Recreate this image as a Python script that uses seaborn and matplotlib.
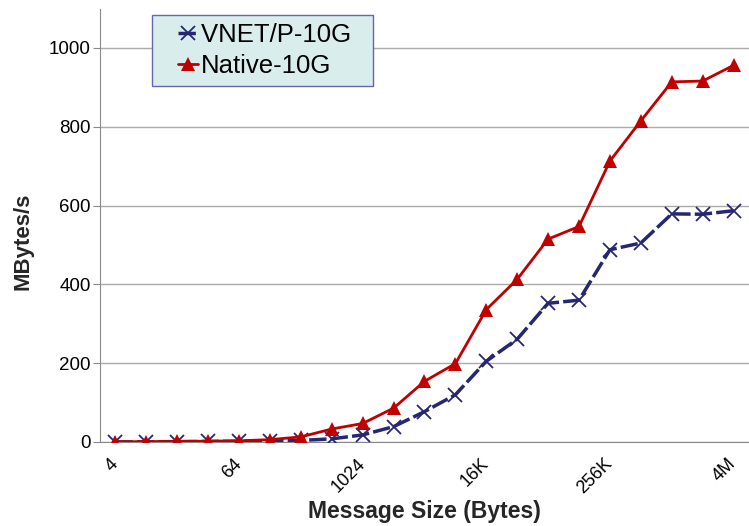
import pandas as pd
import matplotlib
matplotlib.use('Agg')
import matplotlib.pyplot as plt
import matplotlib.transforms as mtransforms
from matplotlib.legend_handler import HandlerLine2D
import seaborn as sns

sizes = ['4', '8', '16', '32', '64', '128', '256', '512', '1024', '2K', '4K',
         '8K', '16K', '32K', '64K', '128K', '256K', '512K', '1M', '2M', '4M']
vnet = [0.3, 0.5, 1, 1.5, 2, 3, 4, 8, 18, 39, 77,
        120, 205, 261, 352, 360, 488, 505, 579, 578, 587]
native = [0.5, 1, 1.5, 2, 3, 6, 13, 33, 47, 86, 154,
          199, 336, 413, 515, 547, 713, 815, 914, 916, 956]

df = pd.DataFrame({'pos': list(range(len(sizes))) * 2,
                   'MBytes/s': vnet + native,
                   'series': ['VNET/P-10G'] * len(sizes) + ['Native-10G'] * len(sizes)})

sns.set_style('white')
plt.rcParams['font.family'] = ['Liberation Sans', 'DejaVu Sans']
plt.rcParams['text.color'] = 'black'
plt.rcParams['xtick.color'] = 'black'
plt.rcParams['ytick.color'] = 'black'

fig = plt.figure(figsize=(7.49, 5.26), dpi=100)
ax = fig.add_axes([0.1335, 0.1597, 0.8665, 0.824])

# VNET/P series (dashed navy, x markers)
sns.lineplot(data=df[df['series'] == 'VNET/P-10G'], x='pos', y='MBytes/s', ax=ax,
             color='#262673', lw=2.5, marker='x', markersize=10.5,
             markeredgewidth=1.3, markeredgecolor='#262673',
             label='VNET/P-10G  ', zorder=3)
ax.lines[-1].set_linestyle((0, (5, 1.2)))
# native series (red, triangles)
sns.lineplot(data=df[df['series'] == 'Native-10G'], x='pos', y='MBytes/s', ax=ax,
             color='#C00000', lw=2, marker='^', markersize=10.5,
             markeredgewidth=0, label='Native-10G', zorder=4)

ax.set_xlim(-0.5, 20.3)
ax.set_ylim(0, 1100)
ax.set_yticks([0, 200, 400, 600, 800, 1000])
ax.yaxis.grid(True, color='#aaaaaa', lw=1)
ax.set_axisbelow(True)

ax.set_xticks([i + 0.5 for i in range(-1, 21)], minor=True)
ax.set_xticks(range(0, 21, 4))
ax.set_xticklabels([sizes[i] for i in range(0, 21, 4)], rotation=45,
                   ha='right', va='center', rotation_mode='anchor')
shift = mtransforms.ScaledTranslation(6 / 72, 0, fig.dpi_scale_trans)
for lbl in ax.get_xticklabels():
    lbl.set_transform(lbl.get_transform() + shift)
ax.tick_params(axis='x', which='major', length=0, pad=14, labelsize=13)
ax.tick_params(axis='x', which='minor', length=5, color='#888888', direction='in')
ax.tick_params(axis='y', length=5, color='#888888', labelsize=13.5, left=True, pad=1.5)

for s in ['top', 'right']:
    ax.spines[s].set_visible(False)
for s in ['left', 'bottom']:
    ax.spines[s].set_color('#888888')

ax.set_xlabel('Message Size (Bytes)', fontsize=16.5, fontweight='bold', labelpad=2)
ax.set_ylabel('MBytes/s', fontsize=16, fontweight='bold')
ax.yaxis.set_label_coords(-0.103, 0.463)

hmap = {ln: HandlerLine2D(xpad=0.7) for ln in ax.lines}
leg = ax.legend(loc='upper left', bbox_to_anchor=(0.08, 0.985), fontsize=18.5,
                handlelength=1.5, handletextpad=0.1, borderpad=0.3,
                labelspacing=0.3, fancybox=False, frameon=True,
                borderaxespad=0, handler_map=hmap)
leg.get_frame().set_facecolor('#DAEDED')
leg.get_frame().set_edgecolor('#6666AA')
leg.get_frame().set_alpha(1)

fig.savefig('out.png', dpi=100)
